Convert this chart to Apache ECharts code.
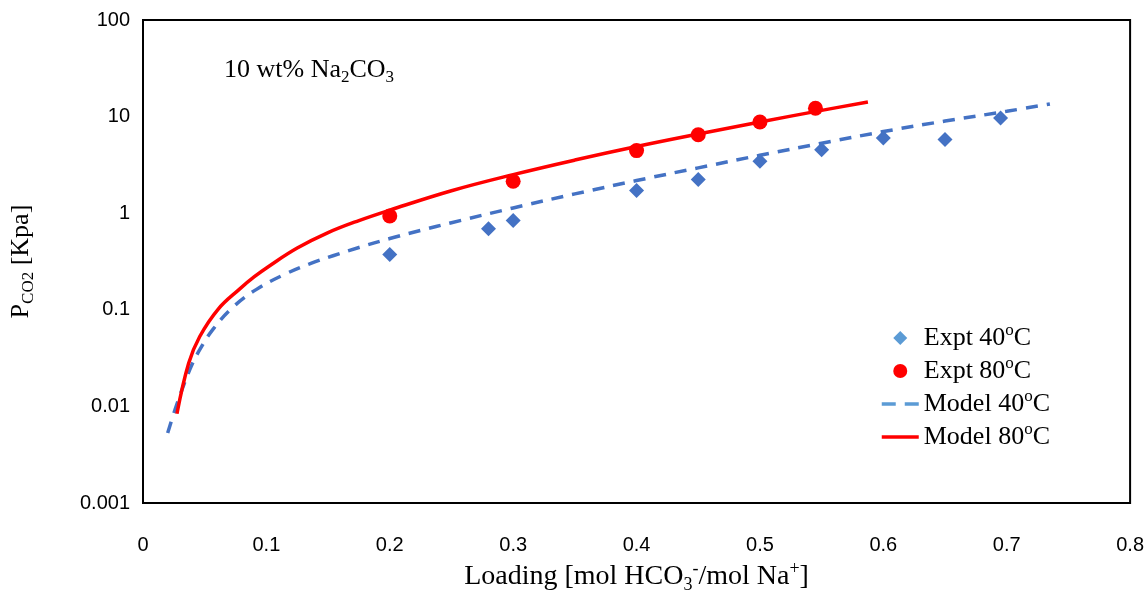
<!DOCTYPE html>
<html>
<head>
<meta charset="utf-8">
<script src="https://cdn.jsdelivr.net/npm/echarts@6/dist/echarts.min.js"></script>
<style>
    html, body { margin: 0; padding: 0; background: #fff; }
    #chart { width: 1147px; height: 599px; }
</style>
</head>
<body>
<div id="chart"></div>
<script>
// experimental points
const expt40X = [0.2, 0.28, 0.3, 0.4, 0.45, 0.5, 0.55, 0.6, 0.65, 0.695];
const expt40Y = [0.373, 0.69, 0.84, 1.72, 2.24, 3.45, 4.55, 6.0, 5.8, 9.7];
const expt80X = [0.2, 0.3, 0.4, 0.45, 0.5, 0.545];
const expt80Y = [0.935, 2.14, 4.45, 6.5, 8.8, 12.2];

// model curves
const model40X = [0.020, 0.0275, 0.038, 0.046, 0.057, 0.073, 0.092, 0.116, 0.135, 0.154, 0.175, 0.2, 0.225, 0.25, 0.3, 0.35, 0.4, 0.45, 0.5, 0.55, 0.6, 0.65, 0.7, 0.735];
const model40Y = [0.0053, 0.0106, 0.0242, 0.0387, 0.0635, 0.107, 0.163, 0.237, 0.299, 0.363, 0.442, 0.547, 0.664, 0.798, 1.135, 1.585, 2.18, 2.95, 3.98, 5.31, 7.0, 9.0, 11.35, 13.5];
const model80X = [0.0275, 0.037, 0.046, 0.061, 0.078, 0.09, 0.103, 0.125, 0.15, 0.175, 0.2, 0.25, 0.3, 0.35, 0.4, 0.45, 0.5, 0.55, 0.5875];
const model80Y = [0.0084, 0.028, 0.053, 0.102, 0.163, 0.219, 0.288, 0.436, 0.63, 0.84, 1.077, 1.71, 2.51, 3.55, 4.9, 6.6, 8.8, 11.6, 14.2];

const serif = "'Liberation Serif', 'Times New Roman', serif";
const sans = "'Liberation Sans', Arial, sans-serif";

function pairs(xs, ys) {
    return xs.map((x, i) => [x, ys[i]]);
}

function richSet(size) {
    const small = Math.round(size * 0.64);
    const base = { fontFamily: serif, fontWeight: 'normal', color: '#000' };
    return {
        n: Object.assign({}, base, { fontSize: size, lineHeight: size + 6 }),
        sub: Object.assign({}, base, { fontSize: small, lineHeight: small, verticalAlign: 'bottom' }),
        sup: Object.assign({}, base, { fontSize: small, lineHeight: small, verticalAlign: 'top' })
    };
}

const legendText = {
    "Expt 40oC": "{n|Expt 40}{sup|o}{n|C}",
    "Expt 80oC": "{n|Expt 80}{sup|o}{n|C}",
    "Model 40oC": "{n|Model 40}{sup|o}{n|C}",
    "Model 80oC": "{n|Model 80}{sup|o}{n|C}"
};

const hidden = { color: 'rgba(0,0,0,0)', borderColor: 'rgba(0,0,0,0)', borderWidth: 0 };

const chart = echarts.init(document.getElementById('chart'));

const option = {
    animation: false,
    backgroundColor: '#fff',
    title: {
        text: '{n|10 wt% Na}{sub|2}{n|CO}{sub|3}',
        left: 224,
        top: 54,
        padding: 0,
        textStyle: { fontWeight: 'normal', rich: richSet(26) }
    },
    grid: {
        left: 143,
        top: 20,
        right: 14,
        bottom: 86,
        show: true,
        borderColor: '#000',
        borderWidth: 2,
        containLabel: false
    },
    legend: {
        orient: 'vertical',
        left: 880,
        top: 322,
        padding: 0,
        itemGap: 4,
        itemWidth: 37,
        itemHeight: 14,
        symbolKeepAspect: true,
        data: [
            { name: 'Expt 40oC', icon: 'path://M0,-1L1,0L0,1L-1,0Z', itemStyle: { color: '#5B9BD5' } },
            { name: 'Expt 80oC', icon: 'circle' },
            { name: 'Model 40oC', itemStyle: hidden, lineStyle: { color: '#5B9BD5', width: 3.5, type: [14, 9] } },
            { name: 'Model 80oC', itemStyle: hidden, lineStyle: { color: '#FF0000', width: 3.5 } }
        ],
        formatter: function (name) { return legendText[name]; },
        textStyle: { rich: richSet(26) }
    },
    xAxis: {
        type: 'value',
        min: 0,
        max: 0.8,
        interval: 0.1,
        name: '{n|Loading [mol HCO}{sub|3}{sup|-}{n|/mol Na}{sup|+}{n|]}',
        nameLocation: 'middle',
        nameGap: 56,
        nameTextStyle: { rich: richSet(28) },
        axisLine: { show: false },
        axisTick: { show: false },
        splitLine: { show: false },
        axisLabel: {
            margin: 32,
            fontFamily: sans,
            fontSize: 20,
            color: '#000',
            formatter: function (v) { return String(+v.toFixed(1)); }
        }
    },
    yAxis: {
        type: 'log',
        logBase: 10,
        min: 0.001,
        max: 100,
        name: '{n|P}{sub|CO2}{n| [Kpa]}',
        nameLocation: 'middle',
        nameGap: 106,
        nameRotate: 90,
        nameTextStyle: { rich: richSet(26) },
        axisLine: { show: false },
        axisTick: { show: false },
        splitLine: { show: false },
        axisLabel: {
            margin: 13,
            fontFamily: sans,
            fontSize: 20,
            color: '#000',
            formatter: function (v) { return String(parseFloat(Number(v).toPrecision(6))); }
        }
    },
    series: [
        {
            name: 'Expt 40oC',
            type: 'scatter',
            symbol: 'diamond',
            symbolSize: 15,
            z: 5,
            itemStyle: { color: '#4472C4', opacity: 1 },
            data: pairs(expt40X, expt40Y)
        },
        {
            name: 'Expt 80oC',
            type: 'scatter',
            symbol: 'circle',
            symbolSize: 15,
            z: 5,
            itemStyle: { color: '#FF0000', opacity: 1 },
            data: pairs(expt80X, expt80Y)
        },
        {
            name: 'Model 40oC',
            type: 'line',
            symbol: 'none',
            smooth: 0.4,
            z: 2,
            itemStyle: { color: '#4472C4' },
            lineStyle: { color: '#4472C4', width: 3.5, type: [12, 9] },
            data: pairs(model40X, model40Y)
        },
        {
            name: 'Model 80oC',
            type: 'line',
            symbol: 'none',
            smooth: 0.4,
            z: 3,
            itemStyle: { color: '#FF0000' },
            lineStyle: { color: '#FF0000', width: 3.5 },
            data: pairs(model80X, model80Y)
        }
    ]
};

chart.setOption(option);
</script>
</body>
</html>
